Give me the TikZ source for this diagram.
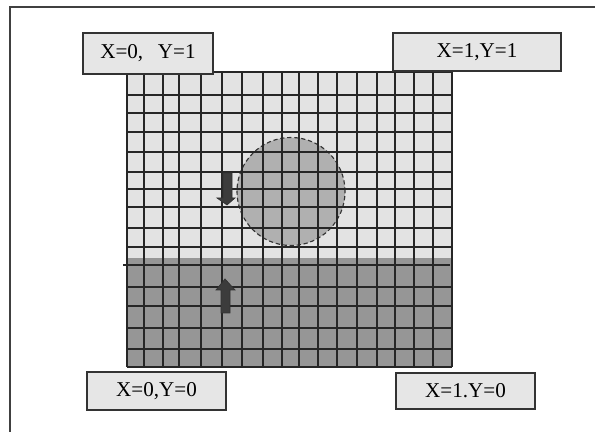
\documentclass[tikz,border=0pt]{standalone}
\usepackage{fontspec}
\setmainfont{Liberation Serif}

\definecolor{paleCell}{HTML}{E3E3E3}
\definecolor{darkCell}{HTML}{969696}
\definecolor{dropGray}{HTML}{B0B0B0}
\definecolor{arrowGray}{HTML}{3C3C3C}
\definecolor{boxGray}{HTML}{E6E6E6}

\tikzset{
  cornerbox/.style={draw=black!80,fill=boxGray,line width=0.9pt,inner sep=0pt,
    font=\fontsize{15}{18}\selectfont},
  gridline/.style={black!85,line width=1.1pt},
  flowarrow/.style={fill=arrowGray,draw=black!80,line width=0.5pt}
}

\begin{document}
\begin{tikzpicture}[x=0.025cm,y=-0.025cm]
  \useasboundingbox (0,0) rectangle (595,432);
  % frame
  \draw[black!75,line width=1pt] (10,432)--(10,7)--(595,7);
  % two phases
  \fill[paleCell] (127,72) rectangle (452,258);
  \fill[darkCell] (127,258) rectangle (452,367);
  % drop
  \draw[fill=dropGray,draw=black!80,line width=0.8pt,densely dashed] (291,191.5) circle[radius=1.35cm];
  % mesh
  \foreach \gx in {127,144,163,179,201,222,242,263,282,299,318,337,357,377,395,414,433,452}
    \draw[gridline] (\gx,72)--(\gx,367);
  \foreach \gy in {72,95,113,132,152,172,189,207,228,247,287,306,328,349,367}
    \draw[gridline] (127,\gy)--(452,\gy);
  \draw[gridline] (123,265)--(450,265);
  % velocity arrows
  \draw[flowarrow] (223,173)--(232,173)--(232,198)--(235,198)--(227,205)--(217,198)--(223,198)--cycle;
  \draw[flowarrow] (221,313)--(230,313)--(230,290)--(235,290)--(225,279)--(216,290)--(221,290)--cycle;
  % corner labels
  \node[cornerbox,minimum width=3.25cm,minimum height=1.025cm] (tl) at (148,53.5) {X=0,\hspace{0.7em}Y=1};
  \node[cornerbox,minimum width=4.2cm,minimum height=0.95cm] (tr) at (477,52) {X=1,Y=1};
  \node[cornerbox,minimum width=3.475cm,minimum height=0.95cm] (bl) at (156.5,391) {X=0,Y=0};
  \node[cornerbox,minimum width=3.475cm,minimum height=0.9cm] (br) at (465.5,391) {X=1.Y=0};
\end{tikzpicture}
\end{document}
